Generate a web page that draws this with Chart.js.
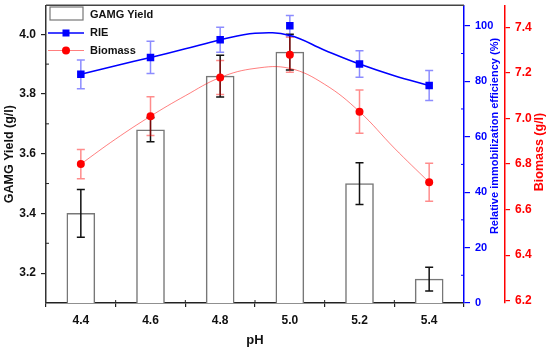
<!DOCTYPE html>
<html><head><meta charset="utf-8">
<script src="https://cdn.jsdelivr.net/npm/chart.js@4/dist/chart.umd.min.js"></script>
<style>html,body{margin:0;padding:0;background:#fff}#wrap{width:550px;height:350px;position:relative}</style>
</head><body><div id="wrap"><canvas id="c" width="550" height="350"></canvas></div>
<script>
const pH = [4.4, 4.6, 4.8, 5.0, 5.2, 5.4];
const gamgYield = [3.40, 3.68, 3.86, 3.94, 3.50, 3.18];
const gamgErr = [0.08, 0.04, 0.07, 0.06, 0.07, 0.04];
const rie = [82.5, 88.6, 95.0, 100.0, 86.2, 78.5];
const rieErr = [5.2, 5.8, 4.5, 3.7, 4.8, 5.4];
const biomass = [6.80, 7.01, 7.18, 7.28, 7.03, 6.72];
const biomassErr = [0.064, 0.085, 0.075, 0.077, 0.095, 0.083];
const curvePH = [4.4, 4.5, 4.6, 4.7, 4.8, 4.9, 5.0, 5.1, 5.2, 5.3, 5.4];
const rieCurve = [82.5, 85.6, 88.6, 91.7, 94.9, 97.3, 96.5, 91.2, 86.2, 82.0, 78.5];
const biomassCurve = [6.80, 6.91, 7.01, 7.10, 7.18, 7.22, 7.22, 7.15, 7.03, 6.87, 6.72];
const phTicks = [4.4, 4.6, 4.8, 5.0, 5.2, 5.4];
const yieldTicks = [3.2, 3.4, 3.6, 3.8, 4.0];
const rieTicks = [0, 20, 40, 60, 80, 100];
const biomassTicks = [6.2, 6.4, 6.6, 6.8, 7.0, 7.2, 7.4];

const FONT = 'Arial, "Liberation Sans", sans-serif';
const BLUE = '#0000ff', RED = '#ff0000';

const pts = (xs, ys) => xs.map((x, i) => ({x: x, y: ys[i]}));
const setTicks = arr => (scale => { scale.ticks = arr.map(v => ({value: v})); });
const fitV = w => (s => { s.width = w; s.paddingTop = 0; s.paddingBottom = 0; });

function drawErr(chart, xs, ys, errs, axisId, color) {
  const ctx = chart.ctx, xs_ = chart.scales.x, ys_ = chart.scales[axisId];
  ctx.save();
  ctx.strokeStyle = color; ctx.lineWidth = 1.5;
  xs.forEach((x, i) => {
    const px = xs_.getPixelForValue(x);
    const top = ys_.getPixelForValue(ys[i] + errs[i]);
    const bot = ys_.getPixelForValue(ys[i] - errs[i]);
    ctx.beginPath();
    ctx.moveTo(px, top); ctx.lineTo(px, bot);
    ctx.moveTo(px - 4, top); ctx.lineTo(px + 4, top);
    ctx.moveTo(px - 4, bot); ctx.lineTo(px + 4, bot);
    ctx.stroke();
  });
  ctx.restore();
}

const extras = {
  id: 'extras',
  afterDatasetDraw(chart, args) {
    if (args.index === 0) drawErr(chart, pH, gamgYield, gamgErr, 'y', '#111');
    if (args.index === 1) drawErr(chart, pH, biomass, biomassErr, 'yBio', 'rgba(255,0,0,0.45)');
    if (args.index === 3) drawErr(chart, pH, rie, rieErr, 'yRIE', 'rgba(0,0,255,0.45)');
  },
  afterDraw(chart) {
    const ctx = chart.ctx, a = chart.chartArea;
    ctx.save();
    ctx.strokeStyle = '#444'; ctx.lineWidth = 1.5;
    ctx.beginPath(); ctx.moveTo(a.left, a.top); ctx.lineTo(a.right, a.top); ctx.stroke();
    const minor = (scale, vals, color, horiz, dir) => {
      ctx.strokeStyle = color; ctx.lineWidth = 1;
      vals.forEach(v => {
        const p = scale.getPixelForValue(v);
        ctx.beginPath();
        if (horiz) { ctx.moveTo(p, a.bottom); ctx.lineTo(p, a.bottom - 3); }
        else { ctx.moveTo(dir, p); ctx.lineTo(dir + (dir === a.left ? 3 : -3), p); }
        ctx.stroke();
      });
    };
    const mids = arr => arr.slice(0, -1).map((v, i) => (v + arr[i + 1]) / 2);
    minor(chart.scales.x, mids(phTicks), '#222', true);
    minor(chart.scales.y, mids(yieldTicks), '#222', false, a.left);
    minor(chart.scales.yRIE, mids(rieTicks), BLUE, false, a.right);
    const vtitle = (text, x, y, color, size) => {
      ctx.save();
      ctx.translate(x, y); ctx.rotate(-Math.PI / 2);
      ctx.fillStyle = color; ctx.font = 'bold ' + size + 'px ' + FONT;
      ctx.textAlign = 'center'; ctx.textBaseline = 'middle';
      ctx.fillText(text, 0, 0);
      ctx.restore();
    };
    vtitle('Relative immobilization efficiency (%)', 495, 136, BLUE, 11);
    vtitle('Biomass (g/l)', 540, 152, RED, 12.5);
    ctx.fillStyle = '#fff'; ctx.strokeStyle = '#777'; ctx.lineWidth = 1.2;
    ctx.fillRect(50, 7, 33, 13); ctx.strokeRect(50, 7, 33, 13);
    ctx.strokeStyle = BLUE; ctx.lineWidth = 1.5;
    ctx.beginPath(); ctx.moveTo(48, 33); ctx.lineTo(84, 33); ctx.stroke();
    ctx.fillStyle = BLUE; ctx.fillRect(62.5, 29.5, 7, 7);
    ctx.strokeStyle = 'rgba(255,0,0,0.5)'; ctx.lineWidth = 1;
    ctx.beginPath(); ctx.moveTo(48, 50.5); ctx.lineTo(84, 50.5); ctx.stroke();
    ctx.fillStyle = RED; ctx.beginPath(); ctx.arc(66, 50.5, 4, 0, Math.PI * 2); ctx.fill();
    ctx.fillStyle = '#111'; ctx.font = 'bold 11px ' + FONT;
    ctx.textAlign = 'left'; ctx.textBaseline = 'middle';
    ctx.fillText('GAMG Yield', 90, 14.5);
    ctx.fillText('RIE', 90, 33);
    ctx.fillText('Biomass', 90, 50.5);
    ctx.restore();
  }
};

new Chart(document.getElementById('c'), {
  type: 'bar',
  data: {
    datasets: [
      { type: 'bar', label: 'GAMG Yield', data: pts(pH, gamgYield), yAxisID: 'y',
        backgroundColor: '#ffffff', borderColor: '#777', borderWidth: 1.5, barThickness: 28, order: 5 },
      { type: 'line', label: 'Biomass fit', data: pts(curvePH, biomassCurve), yAxisID: 'yBio',
        borderColor: 'rgba(255,0,0,0.5)', borderWidth: 1, pointRadius: 0, tension: 0.4, fill: false, order: 4 },
      { type: 'line', label: 'Biomass', data: pts(pH, biomass), yAxisID: 'yBio', showLine: false,
        pointStyle: 'circle', pointRadius: 4, backgroundColor: RED, borderColor: RED, borderWidth: 0, order: 3 },
      { type: 'line', label: 'RIE fit', data: pts(curvePH, rieCurve), yAxisID: 'yRIE',
        borderColor: BLUE, borderWidth: 1.5, pointRadius: 0, tension: 0.4, fill: false, order: 2 },
      { type: 'line', label: 'RIE', data: pts(pH, rie), yAxisID: 'yRIE', showLine: false,
        pointStyle: 'rect', pointRadius: 5.3, backgroundColor: BLUE, borderColor: BLUE, borderWidth: 0, order: 1 }
    ]
  },
  options: {
    responsive: false, animation: false,
    layout: { padding: { top: 4, left: 0, right: 0, bottom: 0 } },
    plugins: { legend: { display: false }, tooltip: { enabled: false } },
    scales: {
      x: {
        type: 'linear', position: 'bottom', min: 4.3, max: 5.5, offset: false,
        afterBuildTicks: setTicks(phTicks),
        afterFit: s => { s.height = 47; s.paddingLeft = 0; s.paddingRight = 0; },
        grid: { drawOnChartArea: false, tickLength: 4, color: '#222', lineWidth: 1.2 },
        border: { color: '#222', width: 1.5 },
        ticks: { color: '#111', padding: 6, maxRotation: 0, font: { family: FONT, size: 12, weight: 'bold' },
                 callback: v => v.toFixed(1) },
        title: { display: true, text: 'pH', color: '#111', font: { family: FONT, size: 13, weight: 'bold' },
                 padding: { top: 0, bottom: 2 } }
      },
      y: {
        position: 'left', min: 3.1, max: 4.097,
        afterBuildTicks: setTicks(yieldTicks),
        afterFit: fitV(46),
        grid: { drawOnChartArea: false, tickLength: 5, color: '#222', lineWidth: 1.2 },
        border: { color: '#333', width: 1.5 },
        ticks: { color: '#111', padding: 5, font: { family: FONT, size: 12, weight: 'bold' },
                 callback: v => v.toFixed(1) },
        title: { display: true, text: 'GAMG Yield (g/l)', color: '#111',
                 font: { family: FONT, size: 12.5, weight: 'bold' }, padding: { top: 2, bottom: 0 } }
      },
      yRIE: {
        position: 'right', weight: 0, min: 0, max: 107.4,
        afterBuildTicks: setTicks(rieTicks),
        afterFit: fitV(41),
        grid: { drawOnChartArea: false, tickLength: 6, color: BLUE, lineWidth: 1.2 },
        border: { color: BLUE, width: 1.5 },
        ticks: { color: BLUE, padding: 5, font: { family: FONT, size: 11, weight: 'bold' } }
      },
      yBio: {
        position: 'right', weight: 1, min: 6.19, max: 7.497,
        afterBuildTicks: setTicks(biomassTicks),
        afterFit: fitV(45),
        grid: { drawOnChartArea: false, tickLength: 5, color: RED, lineWidth: 1.2 },
        border: { color: RED, width: 1.5 },
        ticks: { color: RED, padding: 5, font: { family: FONT, size: 12, weight: 'bold' },
                 callback: v => v.toFixed(1) }
      }
    }
  },
  plugins: [extras]
});
</script>
</body></html>
